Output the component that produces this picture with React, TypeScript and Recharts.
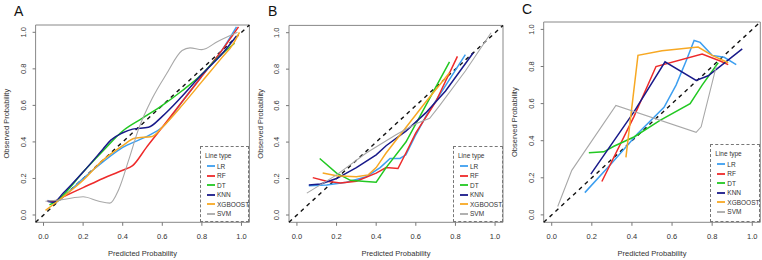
import React from 'react';
import { LineChart, Line, XAxis, YAxis, ReferenceLine, ReferenceArea, Legend } from 'recharts';

type Pt = { x: number; y: number };

const FONT = '"Liberation Sans", Arial, Helvetica, sans-serif';
const MODELS = ['LR', 'RF', 'DT', 'KNN', 'XGBOOST', 'SVM'];
const COLORS = ['#3d9ff0', '#ee2a2a', '#22c822', '#191a8a', '#f7a823', '#a8a8a8'];
const TICKS = [0, 0.2, 0.4, 0.6, 0.8, 1];
const LO = -0.04;
const HI = 1.04;

// --- Panel A: smoothed calibration curves ---
const lrA: Pt[] = [
  { x: 0.02, y: 0.08 }, { x: 0.06, y: 0.07 }, { x: 0.1, y: 0.1 }, { x: 0.2, y: 0.2 }, { x: 0.3, y: 0.29 },
  { x: 0.4, y: 0.37 }, { x: 0.48, y: 0.41 }, { x: 0.54, y: 0.44 }, { x: 0.6, y: 0.48 }, { x: 0.7, y: 0.62 },
  { x: 0.8, y: 0.76 }, { x: 0.9, y: 0.9 }, { x: 0.975, y: 1.03 },
];
const rfA: Pt[] = [
  { x: 0.02, y: 0.075 }, { x: 0.05, y: 0.075 }, { x: 0.1, y: 0.1 }, { x: 0.2, y: 0.15 }, { x: 0.3, y: 0.2 },
  { x: 0.4, y: 0.245 }, { x: 0.45, y: 0.27 }, { x: 0.52, y: 0.37 }, { x: 0.6, y: 0.48 }, { x: 0.7, y: 0.62 },
  { x: 0.8, y: 0.76 }, { x: 0.9, y: 0.9 }, { x: 0.985, y: 1.03 },
];
const dtA: Pt[] = [
  { x: 0.03, y: 0.055 }, { x: 0.07, y: 0.08 }, { x: 0.1, y: 0.11 }, { x: 0.2, y: 0.235 }, { x: 0.3, y: 0.35 },
  { x: 0.4, y: 0.46 }, { x: 0.5, y: 0.53 }, { x: 0.6, y: 0.6 }, { x: 0.7, y: 0.68 }, { x: 0.8, y: 0.77 },
  { x: 0.87, y: 0.85 }, { x: 0.965, y: 0.94 },
];
const knnA: Pt[] = [
  { x: 0.02, y: 0.075 }, { x: 0.05, y: 0.07 }, { x: 0.1, y: 0.12 }, { x: 0.2, y: 0.235 }, { x: 0.3, y: 0.36 },
  { x: 0.34, y: 0.41 }, { x: 0.4, y: 0.45 }, { x: 0.45, y: 0.47 }, { x: 0.53, y: 0.48 }, { x: 0.6, y: 0.54 },
  { x: 0.7, y: 0.65 }, { x: 0.8, y: 0.77 }, { x: 0.9, y: 0.88 }, { x: 0.975, y: 0.98 },
];
const xgbA: Pt[] = [
  { x: 0.01, y: 0.025 }, { x: 0.1, y: 0.1 }, { x: 0.2, y: 0.19 }, { x: 0.3, y: 0.3 }, { x: 0.4, y: 0.38 },
  { x: 0.46, y: 0.42 }, { x: 0.55, y: 0.43 }, { x: 0.6, y: 0.48 }, { x: 0.7, y: 0.6 }, { x: 0.8, y: 0.73 },
  { x: 0.9, y: 0.86 }, { x: 0.96, y: 0.94 }, { x: 0.99, y: 1.0 },
];
const svmA: Pt[] = [
  { x: 0.01, y: 0.075 }, { x: 0.1, y: 0.085 }, { x: 0.2, y: 0.1 }, { x: 0.28, y: 0.075 }, { x: 0.335, y: 0.065 },
  { x: 0.38, y: 0.14 }, { x: 0.43, y: 0.3 }, { x: 0.48, y: 0.47 }, { x: 0.55, y: 0.64 }, { x: 0.62, y: 0.77 },
  { x: 0.7, y: 0.9 }, { x: 0.74, y: 0.915 }, { x: 0.8, y: 0.905 }, { x: 0.88, y: 0.95 }, { x: 0.98, y: 1.0 },
];

// --- Panel B ---
const lrB: Pt[] = [
  { x: 0.06, y: 0.16 }, { x: 0.15, y: 0.165 }, { x: 0.25, y: 0.18 }, { x: 0.35, y: 0.21 }, { x: 0.42, y: 0.26 },
  { x: 0.47, y: 0.31 }, { x: 0.52, y: 0.31 }, { x: 0.55, y: 0.33 }, { x: 0.6, y: 0.44 }, { x: 0.65, y: 0.54 },
  { x: 0.75, y: 0.71 }, { x: 0.85, y: 0.88 },
];
const rfB: Pt[] = [
  { x: 0.08, y: 0.205 }, { x: 0.15, y: 0.185 }, { x: 0.22, y: 0.175 }, { x: 0.3, y: 0.185 }, { x: 0.4, y: 0.23 },
  { x: 0.45, y: 0.26 }, { x: 0.51, y: 0.255 }, { x: 0.55, y: 0.34 }, { x: 0.6, y: 0.45 }, { x: 0.7, y: 0.62 },
  { x: 0.81, y: 0.87 },
];
const dtB: Pt[] = [
  { x: 0.115, y: 0.31 }, { x: 0.2, y: 0.23 }, { x: 0.27, y: 0.19 }, { x: 0.33, y: 0.185 }, { x: 0.4, y: 0.18 },
  { x: 0.45, y: 0.26 }, { x: 0.55, y: 0.4 }, { x: 0.65, y: 0.6 }, { x: 0.77, y: 0.84 },
];
const knnB: Pt[] = [
  { x: 0.06, y: 0.165 }, { x: 0.12, y: 0.17 }, { x: 0.2, y: 0.2 }, { x: 0.3, y: 0.26 }, { x: 0.4, y: 0.33 },
  { x: 0.45, y: 0.38 }, { x: 0.55, y: 0.46 }, { x: 0.65, y: 0.56 }, { x: 0.75, y: 0.68 }, { x: 0.89, y: 0.89 },
];
const xgbB: Pt[] = [
  { x: 0.13, y: 0.23 }, { x: 0.2, y: 0.215 }, { x: 0.3, y: 0.21 }, { x: 0.36, y: 0.22 }, { x: 0.4, y: 0.26 },
  { x: 0.45, y: 0.34 }, { x: 0.55, y: 0.48 }, { x: 0.65, y: 0.62 }, { x: 0.77, y: 0.78 },
];
const svmB: Pt[] = [
  { x: 0.05, y: 0.12 }, { x: 0.2, y: 0.22 }, { x: 0.35, y: 0.34 }, { x: 0.5, y: 0.44 }, { x: 0.6, y: 0.5 },
  { x: 0.67, y: 0.53 }, { x: 0.72, y: 0.6 }, { x: 0.85, y: 0.79 }, { x: 0.98, y: 1.0 },
];

// --- Panel C ---
const lrC: Pt[] = [
  { x: 0.165, y: 0.12 }, { x: 0.3, y: 0.28 }, { x: 0.43, y: 0.44 }, { x: 0.56, y: 0.58 }, { x: 0.62, y: 0.7 },
  { x: 0.67, y: 0.83 }, { x: 0.71, y: 0.94 }, { x: 0.74, y: 0.93 }, { x: 0.8, y: 0.86 }, { x: 0.86, y: 0.85 },
  { x: 0.92, y: 0.81 },
];
const rfC: Pt[] = [
  { x: 0.25, y: 0.18 }, { x: 0.41, y: 0.53 }, { x: 0.52, y: 0.8 }, { x: 0.75, y: 0.867 }, { x: 0.84, y: 0.83 },
  { x: 0.88, y: 0.81 },
];
const dtC: Pt[] = [
  { x: 0.185, y: 0.335 }, { x: 0.26, y: 0.34 }, { x: 0.31, y: 0.37 }, { x: 0.41, y: 0.42 }, { x: 0.54, y: 0.51 },
  { x: 0.69, y: 0.6 }, { x: 0.75, y: 0.7 }, { x: 0.83, y: 0.82 },
];
const knnC: Pt[] = [
  { x: 0.195, y: 0.22 }, { x: 0.41, y: 0.555 }, { x: 0.565, y: 0.825 }, { x: 0.72, y: 0.725 }, { x: 0.78, y: 0.75 },
  { x: 0.95, y: 0.895 },
];
const xgbC: Pt[] = [
  { x: 0.37, y: 0.31 }, { x: 0.43, y: 0.86 }, { x: 0.55, y: 0.885 }, { x: 0.73, y: 0.905 }, { x: 0.8, y: 0.86 },
  { x: 0.88, y: 0.82 },
];
const svmC: Pt[] = [
  { x: 0.03, y: 0.045 }, { x: 0.1, y: 0.24 }, { x: 0.32, y: 0.59 }, { x: 0.72, y: 0.445 }, { x: 0.745, y: 0.475 },
  { x: 0.82, y: 0.8 },
];

type Panel = {
  letter: string;
  left: number;
  yWidth: number;
  right: number;
  top: number;
  letterTop: number;
  curve: 'monotone' | 'linear';
  series: Pt[][];
  legend: { left: number; top: number; width: number; height: number };
};

const PANELS: Panel[] = [
  {
    letter: 'A', left: 0, yWidth: 35.6, right: 4.6, top: 25, letterTop: 3, curve: 'monotone',
    series: [lrA, rfA, dtA, knnA, xgbA, svmA],
    legend: { left: 200, top: 146, width: 49.4, height: 76.3 },
  },
  {
    letter: 'B', left: 254, yWidth: 35, right: 5, top: 25.4, letterTop: 3, curve: 'linear',
    series: [lrB, rfB, dtB, knnB, xgbB, svmB],
    legend: { left: 199, top: 146, width: 50, height: 76.3 },
  },
  {
    letter: 'C', left: 508, yWidth: 35.7, right: 1.7, top: 22, letterTop: 1, curve: 'linear',
    series: [lrC, rfC, dtC, knnC, xgbC, svmC],
    legend: { left: 202.3, top: 144, width: 50, height: 78.3 },
  },
];

const W = 254;
const H = 260;
const X_AXIS_H = 37.7;

const YTick = (props: any) => {
  const { x, y, payload } = props;
  const bx = x - 5;
  return (
    <text x={bx} y={y} transform={`rotate(-90 ${bx} ${y})`} textAnchor="middle" fontSize={7.5} fill="#333" fontFamily={FONT}>
      {Number(payload.value).toFixed(1)}
    </text>
  );
};

// "Line type" key, in model order, boxed with a dashed border
const LineTypeLegend = () => (
  <div style={{ width: '100%', height: '100%', boxSizing: 'border-box', border: '1px dashed #777', fontFamily: FONT, fontSize: 6.5, color: '#333', position: 'relative' }}>
    <div style={{ position: 'absolute', left: 4, top: 4.5, lineHeight: '7px' }}>Line type</div>
    {MODELS.map((m, i) => (
      <div key={m} style={{ position: 'absolute', left: 0, top: 15.5 + i * 9.5, height: 7, lineHeight: '7px', whiteSpace: 'nowrap' }}>
        <span style={{ position: 'absolute', left: 6, top: 2.5, width: 8, height: 2, background: COLORS[i], opacity: 0.9 }} />
        <span style={{ position: 'absolute', left: 16 }}>{m}</span>
      </div>
    ))}
  </div>
);

const CalibrationPanel = ({ p }: { p: Panel }) => (
  <div style={{ position: 'absolute', left: p.left, top: 0, width: W, height: H }}>
    <LineChart width={W} height={H} margin={{ top: p.top, right: p.right, left: 0, bottom: 0 }}>
      <XAxis
        type="number"
        dataKey="x"
        domain={[LO, HI]}
        ticks={TICKS}
        allowDataOverflow
        height={X_AXIS_H}
        axisLine={false}
        tickLine={{ stroke: '#777' }}
        tickSize={3.5}
        tickMargin={8}
        tickFormatter={(v: number) => v.toFixed(1)}
        tick={{ fontSize: 7.5, fill: '#333', fontFamily: FONT }}
        label={{ value: 'Predicted Probability', position: 'insideBottom', offset: 4, fontSize: 7.5, fill: '#333', fontFamily: FONT }}
      />
      <YAxis
        type="number"
        domain={[LO, HI]}
        ticks={TICKS}
        allowDataOverflow
        width={p.yWidth}
        axisLine={false}
        tickLine={{ stroke: '#777' }}
        tickSize={3}
        tickMargin={2}
        tick={<YTick />}
        label={{ value: 'Observed Probability', angle: -90, position: 'insideLeft', offset: 6, fontSize: 7.5, fill: '#333', fontFamily: FONT, style: { textAnchor: 'middle' } }}
      />
      <ReferenceArea x1={LO} x2={HI} y1={LO} y2={HI} fill="none" stroke="#888" strokeWidth={1} />
      <ReferenceLine segment={[{ x: LO, y: LO }, { x: HI, y: HI }]} stroke="#111" strokeWidth={1.4} strokeDasharray="4 4" />
      {p.series.map((pts, i) => (
        <Line
          key={MODELS[i]}
          data={pts}
          dataKey="y"
          name={MODELS[i]}
          type={p.curve}
          stroke={COLORS[i]}
          strokeWidth={MODELS[i] === 'SVM' ? 1.1 : 1.5}
          dot={false}
          isAnimationActive={false}
        />
      ))}
      <Legend
        layout="horizontal"
        verticalAlign="middle"
        align="center"
        content={<LineTypeLegend />}
        wrapperStyle={{ position: 'absolute', left: p.legend.left, top: p.legend.top, width: p.legend.width, height: p.legend.height }}
      />
    </LineChart>
    <div style={{ position: 'absolute', left: 14, top: p.letterTop, fontFamily: FONT, fontSize: 14, lineHeight: '16px', color: '#111' }}>
      {p.letter}
    </div>
  </div>
);

export default function App() {
  return (
    <div style={{ position: 'absolute', left: 0, top: 0, width: 762, height: 260, background: '#fff', overflow: 'hidden' }}>
      {PANELS.map((p) => (
        <CalibrationPanel key={p.letter} p={p} />
      ))}
    </div>
  );
}
